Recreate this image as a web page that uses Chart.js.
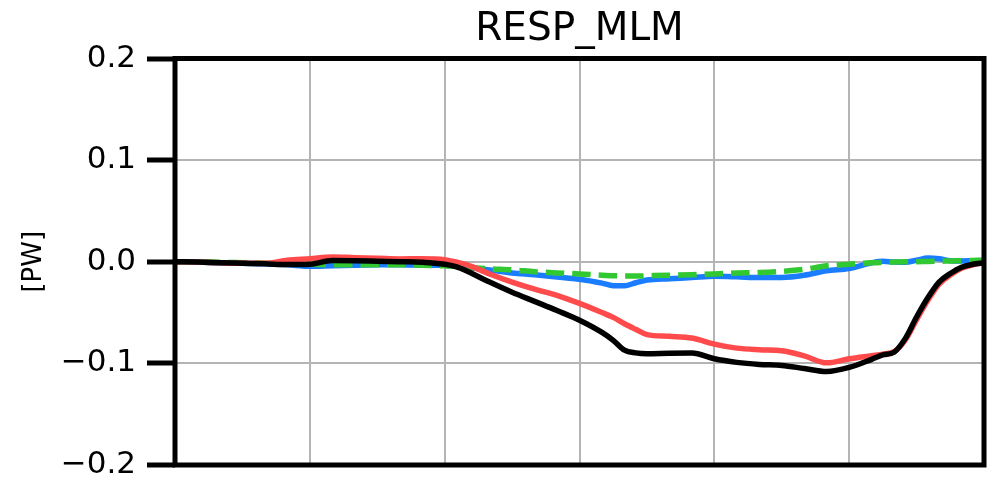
<!DOCTYPE html>
<html>
<head>
<meta charset="utf-8">
<title>RESP_MLM</title>
<script src="https://cdn.jsdelivr.net/npm/chart.js@4.4.1/dist/chart.umd.min.js"></script>
<style>
  html, body { margin: 0; padding: 0; background: #ffffff; }
  #wrap { width: 988px; height: 479px; }
  canvas { display: block; }
</style>
</head>
<body>
<div id="wrap"><canvas id="chart" width="988" height="479"></canvas></div>
<script>
// Latitude (degrees) of each sample
const lat = [-90, -85, -80, -75, -70, -65, -60, -55, -50, -45, -40, -35, -30, -27.5,
  -25, -20, -15, -10, -5, 0, 5, 7.5, 10, 12.5, 15, 20, 25, 30, 35, 40, 45, 50, 55,
  60, 65, 67.5, 70, 72.5, 75, 77.5, 80, 82.5, 85, 87.5, 90];

// Transport response [PW]
const totalResp = [0.000, -0.0003, -0.001, -0.0015, -0.002, -0.0028, -0.0025, 0.0012, 0.001,
  0.0005, 0.0, -0.0005, -0.0025, -0.0049, -0.0093, -0.020, -0.030, -0.039, -0.048, -0.0575,
  -0.0695, -0.0773, -0.087, -0.0897, -0.0905, -0.090, -0.0898, -0.0955, -0.099, -0.101,
  -0.102, -0.105, -0.108, -0.104, -0.096, -0.0916, -0.089, -0.0754, -0.0544, -0.0355,
  -0.020, -0.0116, -0.0054, -0.0025, -0.001];

const redResp = [0.000, -0.0003, -0.001, -0.0015, -0.0015, 0.0015, 0.003, 0.0047, 0.004,
  0.0035, 0.0028, 0.003, 0.002, -0.0003, -0.003, -0.012, -0.020, -0.027, -0.033, -0.041,
  -0.050, -0.0547, -0.061, -0.0665, -0.0717, -0.0734, -0.075, -0.081, -0.085, -0.0865,
  -0.0875, -0.0926, -0.0995, -0.0955, -0.0925, -0.091, -0.0885, -0.077, -0.057, -0.038,
  -0.022, -0.013, -0.0065, -0.003, -0.001];

const blueResp = [0.000, -0.0003, -0.001, -0.0015, -0.002, -0.003, -0.0045, -0.004, -0.0035,
  -0.003, -0.003, -0.0035, -0.0035, -0.004, -0.0054, -0.008, -0.011, -0.0128, -0.015, -0.0172,
  -0.021, -0.0235, -0.0236, -0.0207, -0.018, -0.0167, -0.0156, -0.0143, -0.0148, -0.0156,
  -0.0155, -0.0133, -0.0089, -0.0067, -0.001, 0.0005, -0.0003, -0.0005, 0.0015, 0.0037,
  0.003, 0.001, 0.0008, 0.001, 0.0012];

const greenResp = [0.000, 0.000, -0.0005, -0.001, -0.0015, -0.002, -0.0025, -0.003, -0.003,
  -0.003, -0.003, -0.0035, -0.004, -0.0047, -0.0055, -0.007, -0.008, -0.0098, -0.011, -0.012,
  -0.0133, -0.0137, -0.014, -0.0141, -0.0138, -0.0132, -0.0127, -0.012, -0.011, -0.0105,
  -0.0094, -0.0074, -0.004, -0.0025, -0.001, -0.0006, -0.0003, -0.0001, 0.0, 0.0003,
  0.0005, 0.0008, 0.001, 0.0012, 0.0015];

// Axis ticks
const latTicks = [-90, -60, -30, 0, 30, 60, 90];
const yTicks = [-0.2, -0.1, 0.0, 0.1, 0.2];
const yTickLabels = ['\u22120.2', '\u22120.1', '0.0', '0.1', '0.2'];

const FONT = "'DejaVu Sans', 'Liberation Sans', sans-serif";
const GRID = '#b4b4b4';

function toPoints(values) {
  return lat.map((x, i) => ({ x: x, y: values[i] }));
}

function lineSet(values, color, dash) {
  return {
    data: toPoints(values),
    borderColor: color,
    backgroundColor: color,
    borderWidth: 5.5,
    borderDash: dash || [],
    borderCapStyle: 'butt',
    borderJoinStyle: 'round',
    pointRadius: 0,
    fill: false,
    cubicInterpolationMode: 'monotone'
  };
}

// Black box around the plotting area, drawn over the curves
const frame = {
  id: 'frame',
  afterDatasetsDraw(chart) {
    const { ctx, chartArea: a } = chart;
    ctx.save();
    ctx.strokeStyle = '#000000';
    ctx.lineWidth = 5;
    ctx.lineJoin = 'miter';
    ctx.strokeRect(a.left, a.top, a.right - a.left, a.bottom - a.top);
    ctx.restore();
  }
};

new Chart(document.getElementById('chart'), {
  type: 'line',
  data: {
    datasets: [
      lineSet(totalResp, '#000000'),
      lineSet(redResp, '#ff4b4b'),
      lineSet(greenResp, '#32c832', [18.5, 8]),
      lineSet(blueResp, '#1a7dff')
    ]
  },
  options: {
    responsive: false,
    animation: false,
    devicePixelRatio: 1,
    layout: { padding: { left: 0, right: 4, top: 0, bottom: 0 } },
    plugins: {
      legend: { display: false },
      tooltip: { enabled: false },
      title: {
        display: true,
        fullSize: false,
        text: 'RESP_MLM',
        color: '#000000',
        font: { family: FONT, size: 39, weight: 'normal' },
        padding: { top: 6, bottom: 5.7 }
      }
    },
    scales: {
      x: {
        type: 'linear',
        min: -90,
        max: 90,
        afterBuildTicks: s => { s.ticks = latTicks.map(v => ({ value: v })); },
        afterFit: s => { s.height = 14; },
        ticks: { display: false },
        border: { display: false },
        grid: { color: GRID, lineWidth: 2, drawTicks: false }
      },
      y: {
        type: 'linear',
        min: -0.2,
        max: 0.2,
        afterBuildTicks: s => { s.ticks = yTicks.map(v => ({ value: v })); },
        afterFit: s => { s.width = 175; s.paddingTop = 0; s.paddingBottom = 0; },
        border: { display: false },
        grid: {
          color: GRID,
          lineWidth: 2,
          drawTicks: true,
          tickLength: 28,
          tickWidth: 5,
          tickColor: '#000000'
        },
        ticks: {
          color: '#000000',
          padding: 11,
          font: { family: FONT, size: 31, lineHeight: 0.3 },
          callback: (v, i) => yTickLabels[i]
        },
        title: {
          display: true,
          text: '[PW]',
          color: '#000000',
          font: { family: FONT, size: 26 },
          padding: { top: 18.4, bottom: 0 }
        }
      }
    }
  },
  plugins: [frame]
});
</script>
</body>
</html>
